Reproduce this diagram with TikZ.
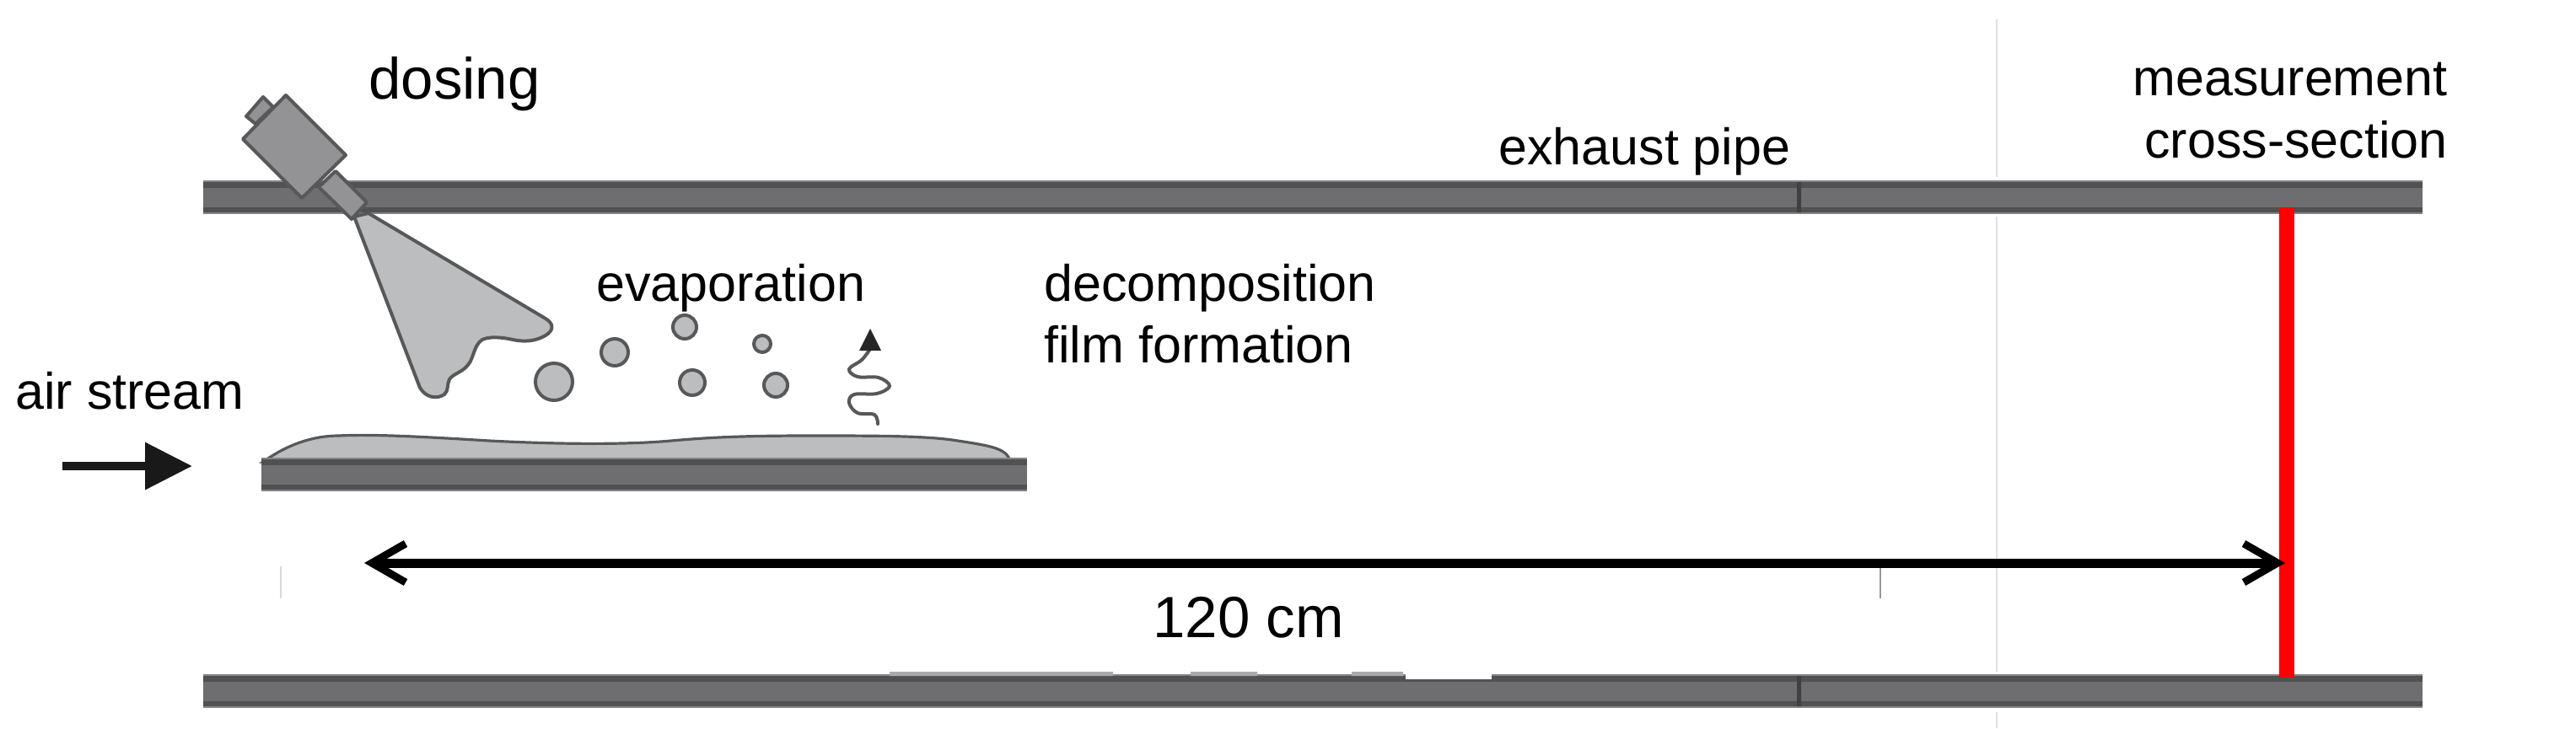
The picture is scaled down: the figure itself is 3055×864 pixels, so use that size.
\documentclass[tikz,border=0pt]{standalone}
\usepackage{fontspec}
\setmainfont{Liberation Sans}
\usetikzlibrary{arrows.meta}
\definecolor{pipedark}{HTML}{515052}
\definecolor{pipemid}{HTML}{6E6E70}
\definecolor{bodygrey}{HTML}{939396}
\definecolor{spraygrey}{HTML}{BCBDBF}
\definecolor{linegrey}{HTML}{58585A}
\tikzset{
  label60/.style={font=\fontsize{30.5pt}{36pt}\selectfont,inner sep=0pt,align=left},
  label68/.style={font=\fontsize{34.5pt}{40pt}\selectfont,inner sep=0pt},
  drop/.style={draw=linegrey,line width=2pt,fill=spraygrey},
  part/.style={draw=linegrey,line width=2pt,line join=round,fill=bodygrey},
  tick/.style={line width=1.2pt},
  barb/.style={>={Straight Barb[length=20pt,width=23pt,line width=4.5pt]}}
}
\newcommand{\pipebar}[4]{%
  \fill[pipedark!70!white] (#1,#2) rectangle (#3,#4);
  \fill[pipedark] (#1,#2+2) rectangle (#3,#4-2);
  \fill[pipemid] (#1,#2+9) rectangle (#3,#4-8);
}
\begin{document}
\begin{tikzpicture}[x=0.5pt,y=-0.5pt]
  \useasboundingbox (0,0) rectangle (3055,864);
  % faint line behind the pipes
  \draw[tick,black!12] (2368,23) -- (2368,210) (2368,257) -- (2368,797) (2368,845) -- (2368,864);
  \draw[tick,black!15] (333,672) -- (333,710);
  \draw[tick,black!40] (2230,674) -- (2230,710);
  % pipes
  \pipebar{241}{214}{2873}{254}
  \pipebar{241}{800}{2873}{840}
  \fill[black!75] (2131,216) rectangle (2136,252) (2131,802) rectangle (2136,838);
  % bottom pipe, rough patches
  \fill[spraygrey!90!black] (1055,797) rectangle (1320,802) (1412,797) rectangle (1491,802) (1603,797) rectangle (1664,802);
  \fill[white] (1667,798) rectangle (1769,806);
  % plate and film
  \draw[draw=linegrey,line width=1.6pt,fill=spraygrey] (312,548) .. controls (340,528) and (370,517) .. (402,517)
    .. controls (440,515) and (500,518) .. (580,523)
    .. controls (660,527) and (740,528) .. (796,523)
    .. controls (840,519) and (880,517) .. (960,517)
    .. controls (1040,517) and (1100,517) .. (1136,523)
    .. controls (1175,529) and (1195,532) .. (1198,548) -- cycle;
  \pipebar{310}{543}{1218}{583}
  % nozzle
  \draw[part,fill=spraygrey] (420,257) -- (437,253) -- (647,378)
    .. controls (657,384) and (657,392) .. (647,398)
    .. controls (635,405) and (622,406) .. (608,403)
    .. controls (595,400) and (580,399) .. (572,403)
    .. controls (562,409) and (562,425) .. (555,433)
    .. controls (548,442) and (538,443) .. (533,450)
    .. controls (530,456) and (532,464) .. (527,468)
    .. controls (518,474) and (505,472) .. (498,460) -- cycle;
  \draw[part] (398,203) -- (435,240) -- (417,260) -- (378,222) -- cycle;
  \draw[part] (292,138) -- (312,115) -- (324,127) -- (303,147) -- cycle;
  \draw[part] (339,113) -- (410,184) -- (358,235) -- (288,165) -- cycle;
  % droplets
  \foreach \dx/\dy/\dr in {657/453/22,729/418/16,812/388/14,904/408/10,821/454/15,920/457/14}
    \draw[drop] (\dx,\dy) circle (\dr);
  % vapour
  \coordinate (vapourtip) at (1032,390);
  \draw[linegrey,line width=2pt,line cap=round] plot[smooth,tension=0.6] coordinates
    {(1041,503) (1037,492) (1017,490) (1007,478) (1013,468) (1040,467) (1055,458) (1042,448) (1017,447) (1007,438) (1022,427) (1032,414)};
  \fill[black!85] (vapourtip) -- (1045,416) -- (1019,416) -- cycle;
  % measuring plane and length
  \coordinate (crosstop) at (2712,246);
  \coordinate (crossbottom) at (2712,804);
  \coordinate (lengthleft) at (432,668);
  \coordinate (lengthright) at (2710,668);
  \coordinate (airleft) at (74,553);
  \coordinate (airright) at (228,553);
  \draw[red,line width=9pt] (crosstop) -- (crossbottom);
  \draw[barb,<->,line width=5.5pt,black] (lengthleft) -- (lengthright);
  \draw[-{Triangle[length=28pt,width=27pt]},line width=5pt,black!90] (airleft) -- (airright);
  % labels
  \node[label68,anchor=base west] (dosing) at (437,117) {dosing};
  \node[label60,anchor=base west] (exhaust) at (1777,195) {exhaust pipe};
  \node[label60,anchor=base west] (evaporation) at (707,357) {evaporation};
  \node[label60,anchor=base west] (decomposition) at (1238,357) {decomposition};
  \node[label60,anchor=base west] (film) at (1238,430) {film formation};
  \node[label60,anchor=base west] (air) at (18,485) {air stream};
  \node[label60,anchor=base east] (measurement) at (2903,113) {measurement};
  \node[label60,anchor=base east] (cross) at (2903,187) {cross-section};
  \node[label68,anchor=base west] (length) at (1367,756) {120 cm};
\end{tikzpicture}
\end{document}
